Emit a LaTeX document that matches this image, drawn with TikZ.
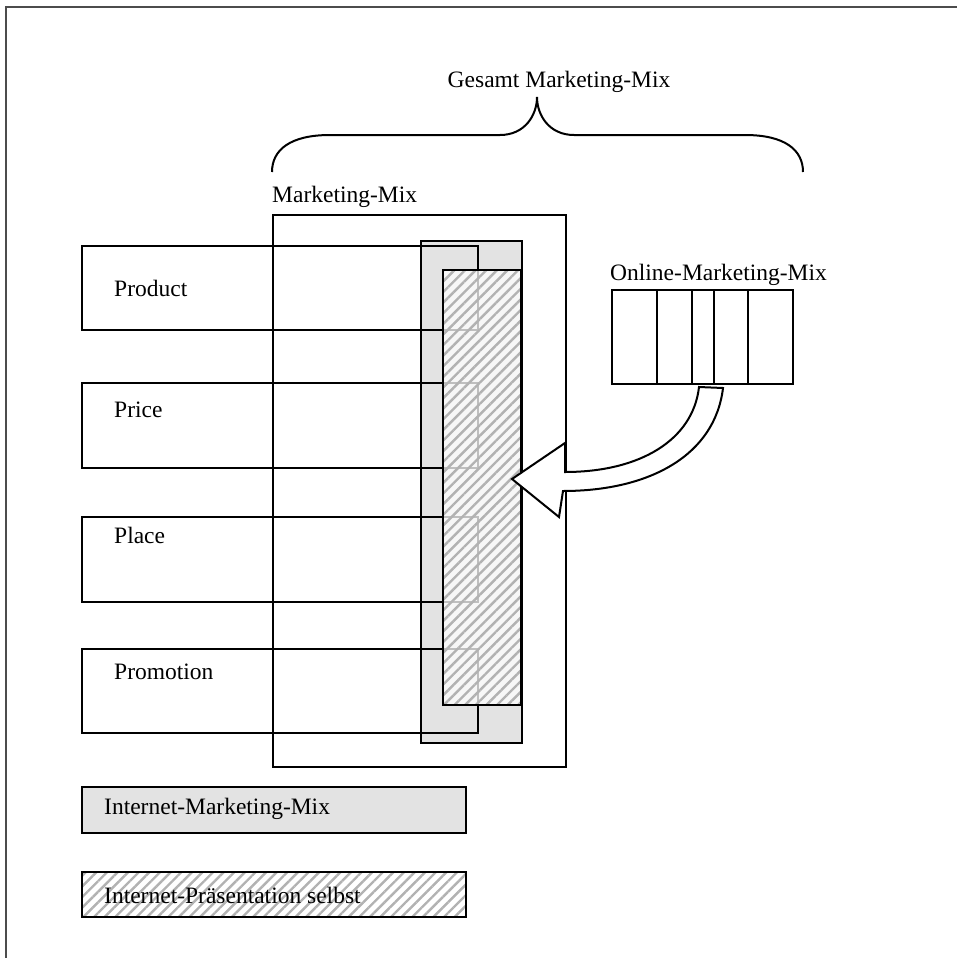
\documentclass[tikz,border=0pt]{standalone}
\usepackage{fontspec}
\setmainfont{Liberation Serif}
\usetikzlibrary{patterns.meta,backgrounds}

\tikzset{
	box/.style={draw=black, line width=2pt},
	imm/.style={fill=black!11},
	hatch/.style={pattern={Lines[angle=45,distance=7.5pt,line width=2.4pt]}, pattern color=black!30},
	lbl/.style={anchor=west, inner sep=0pt}
}

\begin{document}
\begin{tikzpicture}[x=1pt,y=-1pt,font=\fontsize{23.5}{27}\selectfont]
	
	\useasboundingbox (0,0) rectangle (957,958);
	
	% frame, top and left only
	\draw[black!70, line width=2.5pt] (6,958) -- (6,7) -- (957,7);
	
	% brace over the whole mix
	\draw[line width=2pt]
	(272,172) .. controls (272,150) and (290,135) .. (330,135) -- (500,135)
	.. controls (525,135) and (537,115) .. (537,97)
	.. controls (537,115) and (549,135) .. (574,135) -- (745,135)
	.. controls (785,135) and (803,150) .. (803,172);
	\node (gesamt) at (559,82) {Gesamt Marketing-Mix};
	
	% internet marketing mix column
	\fill[imm] (421,241) rectangle (522,743);
	
	% the four P
	\draw[box] (82,246) rectangle (478,330);
	\draw[box] (82,383) rectangle (478,468);
	\draw[box] (82,517) rectangle (478,602);
	\draw[box] (82,649) rectangle (478,733);
	\node[lbl] (product)   at (114,288) {Product};
	\node[lbl] (price)     at (114,410) {Price};
	\node[lbl] (place)     at (114,535) {Place};
	\node[lbl] (promotion) at (114,672) {Promotion};
	
	% marketing mix
	\draw[box] (273,215) rectangle (566,767);
	\node[lbl] (mm) at (272,197) {Marketing-Mix};
	
	% internet presentation
	\fill[white, fill opacity=0.75] (443,270) rectangle (521,705);
	\fill[hatch] (443,270) rectangle (521,705);
	\draw[box] (421,241) rectangle (522,743);
	\draw[box] (443,270) rectangle (521,705);
	
	% online marketing mix
	\draw[box] (612,290) rectangle (793,384);
	\foreach \x in {657,692,714,748}
	\draw[box] (\x,290) -- (\x,384);
	\node[lbl] (omm) at (610,275) {Online-Marketing-Mix};
	
	% curved arrow into the column
	\draw[box, fill=white, line join=miter]
	(699,387) .. controls (693,440) and (640,472) .. (565,472)
	-- (565,443) -- (512,479) -- (559,517) -- (563,491)
	.. controls (650,491) and (715,455) .. (723,388) -- cycle;
	
	% legend
	\draw[box, imm] (82,787) rectangle (466,833);
	\node[lbl] (leg1) at (104,809) {Internet-Marketing-Mix};
	\fill[hatch] (82,872) rectangle (466,917);
	\draw[box] (82,872) rectangle (466,917);
	\node[lbl] (leg2) at (104,895) {Internet-Präsentation selbst};
	
\end{tikzpicture}
\end{document}
